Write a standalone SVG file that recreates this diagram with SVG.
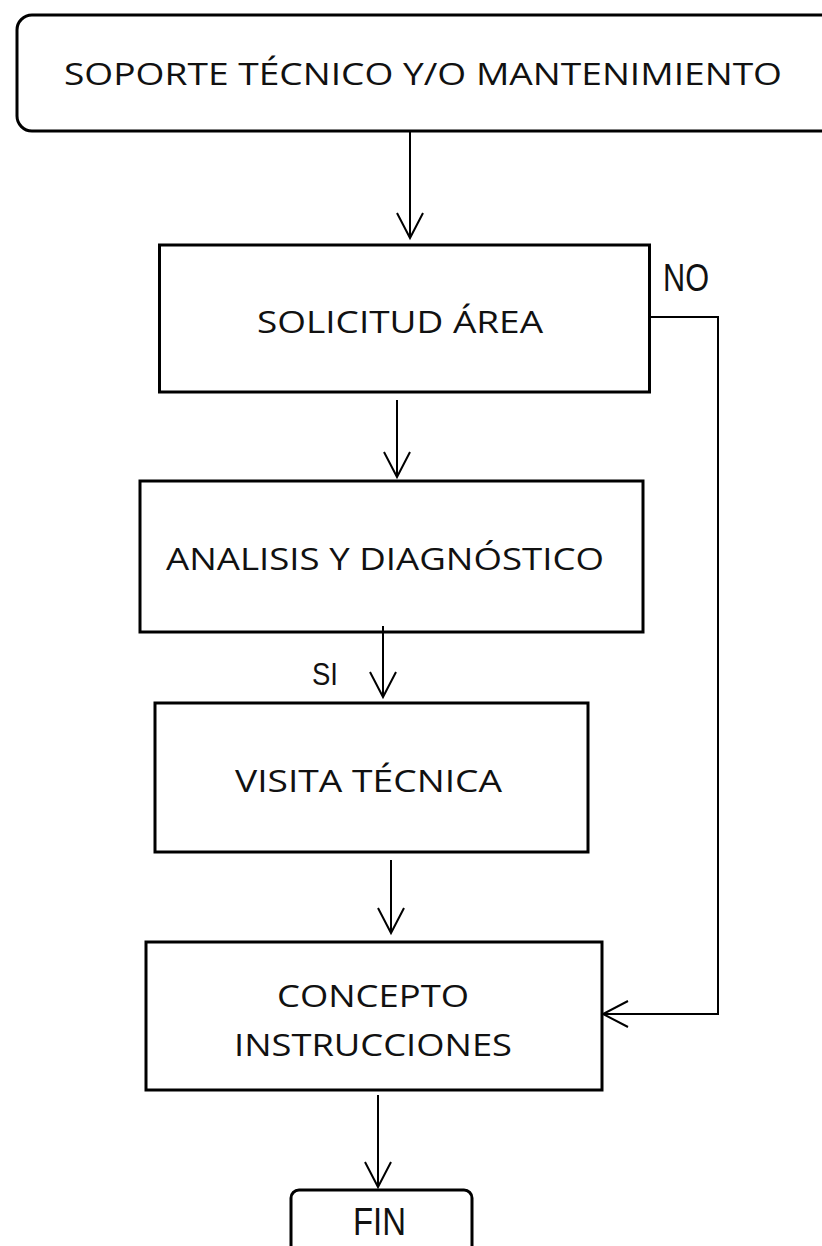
<svg xmlns="http://www.w3.org/2000/svg" width="822" height="1246" viewBox="0 0 822 1246">
<style>
.box{fill:#fff;stroke:#000;stroke-width:3}
.lbl{font-family:"Open Sans","Liberation Sans",sans-serif;font-size:31px;fill:#111}
.cond{font-family:"Liberation Sans",Arial,sans-serif;fill:#111}
.conn{fill:none;stroke:#000;stroke-width:2}
</style>
<defs>
<marker id="arr" markerUnits="userSpaceOnUse" markerWidth="40" markerHeight="40" viewBox="-30 -20 40 40" refX="0" refY="0" orient="auto" overflow="visible">
<path d="M-25,-13 L0,0 L-25,13" fill="none" stroke="#000" stroke-width="2"/>
</marker>
</defs>
<rect width="822" height="1246" fill="#fff"/>
<g id="n-soporte">
<rect class="box" x="17" y="15" width="820" height="116" rx="15" ry="15"/>
<text class="lbl" x="64" y="85" textLength="718" lengthAdjust="spacingAndGlyphs">SOPORTE TÉCNICO Y/O MANTENIMIENTO</text>
</g>
<g id="n-solicitud">
<rect class="box" x="159.5" y="245" width="490" height="147"/>
<text class="lbl" x="257" y="333" textLength="286" lengthAdjust="spacingAndGlyphs">SOLICITUD ÁREA</text>
</g>
<g id="n-analisis">
<rect class="box" x="140" y="481" width="503" height="151"/>
<text class="lbl" x="166" y="570" textLength="438" lengthAdjust="spacingAndGlyphs">ANALISIS Y DIAGNÓSTICO</text>
</g>
<g id="n-visita">
<rect class="box" x="155" y="703" width="433" height="149"/>
<text class="lbl" x="235" y="792" textLength="267" lengthAdjust="spacingAndGlyphs">VISITA TÉCNICA</text>
</g>
<g id="n-concepto">
<rect class="box" x="146" y="942" width="456" height="148"/>
<text class="lbl" x="277" y="1007" textLength="192" lengthAdjust="spacingAndGlyphs">CONCEPTO</text>
<text class="lbl" x="234" y="1056" textLength="278" lengthAdjust="spacingAndGlyphs">INSTRUCCIONES</text>
</g>
<g id="n-fin">
<rect class="box" x="291" y="1190" width="181" height="80" rx="8" ry="8"/>
<text class="cond" x="353" y="1235" font-size="39" textLength="53" lengthAdjust="spacingAndGlyphs">FIN</text>
</g>
<g id="connectors">
<path class="conn" d="M410,131 V238" marker-end="url(#arr)"/>
<path class="conn" d="M397,400 V477" marker-end="url(#arr)"/>
<path class="conn" d="M383,626 V697" marker-end="url(#arr)"/>
<path class="conn" d="M391,860 V933" marker-end="url(#arr)"/>
<path class="conn" d="M378,1095 V1187" marker-end="url(#arr)"/>
<path class="conn" d="M650,317 H718 V1014 H603" marker-end="url(#arr)"/>
<text class="cond" x="663" y="291" font-size="39" textLength="46" lengthAdjust="spacingAndGlyphs">NO</text>
<text class="cond" x="312" y="685" font-size="32" textLength="26" lengthAdjust="spacingAndGlyphs">SI</text>
</g>
</svg>
